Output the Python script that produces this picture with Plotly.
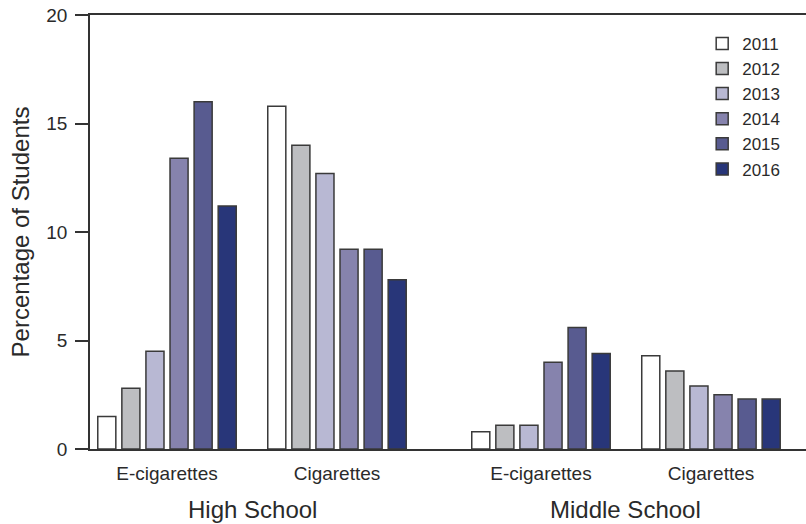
import plotly.graph_objects as go

# 그룹 위치 (고등학교 2개, 중학교 2개 - 학교 사이 간격을 조금 더 둠)
group_pos = [0, 1, 2.2, 3.2]
group_labels = ["E-cigarettes", "Cigarettes", "E-cigarettes", "Cigarettes"]
school_labels = ["High School", "Middle School"]

years = ["2011", "2012", "2013", "2014", "2015", "2016"]
colors = ["#FFFFFF", "#BDBEC1", "#B8B8D3", "#8683AD", "#585B90", "#283679"]

# 연도별 값: [고교 전자담배, 고교 담배, 중학 전자담배, 중학 담배]
v2011 = [1.5, 15.8, 0.8, 4.3]
v2012 = [2.8, 14.0, 1.1, 3.6]
v2013 = [4.5, 12.7, 1.1, 2.9]
v2014 = [13.4, 9.2, 4.0, 2.5]
v2015 = [16.0, 9.2, 5.6, 2.3]
v2016 = [11.2, 7.8, 4.4, 2.3]
values = [v2011, v2012, v2013, v2014, v2015, v2016]

font = "Liberation Sans, Arial, sans-serif"

fig = go.Figure()
for yr, col, vals in zip(years, colors, values):
    fig.add_trace(go.Bar(
        x=group_pos, y=vals, name=yr,
        marker=dict(color=col, line=dict(color="#3a3a3a", width=1.5)),
    ))

fig.update_layout(
    width=806, height=524,
    margin=dict(l=90, r=0, t=15, b=75),
    plot_bgcolor="white", paper_bgcolor="white",
    barmode="group", bargap=0.15, bargroupgap=0.25,
    font=dict(family=font, color="#2a2a2a"),
    legend=dict(x=0.855, y=0.975, xanchor="left", yanchor="top",
                font=dict(size=17), tracegroupgap=0, itemwidth=30,
                bgcolor="rgba(0,0,0,0)"),
    showlegend=True,
)

fig.update_xaxes(
    range=[-0.453, 3.759],
    tickvals=group_pos, ticktext=group_labels,
    tickfont=dict(size=19), ticks="", ticklen=0, ticklabelstandoff=6,
    showline=True, mirror=True, linecolor="#333333", linewidth=1.5,
    showgrid=False, zeroline=False,
)
fig.update_yaxes(
    range=[0, 20], tickvals=[0, 5, 10, 15, 20],
    tickfont=dict(size=19), ticks="outside", ticklen=13, tickwidth=1.5,
    tickcolor="#333333", ticklabelstandoff=4,
    showline=True, linecolor="#333333", linewidth=1.5,
    showgrid=False, zeroline=False,
    title=dict(text="Percentage of Students", font=dict(size=24), standoff=10),
)

for i, lab in enumerate(school_labels):
    fig.add_annotation(
        x=(group_pos[2 * i] + group_pos[2 * i + 1]) / 2, y=-0.14,
        xref="x", yref="paper", text=lab, showarrow=False,
        font=dict(size=24, family=font, color="#2a2a2a"), yanchor="middle",
    )

# 페이지 기본 여백 제거, 모드바 숨김
fig.write_html("out.html", config={"displayModeBar": False},
               post_script="document.body.style.margin='0';")
